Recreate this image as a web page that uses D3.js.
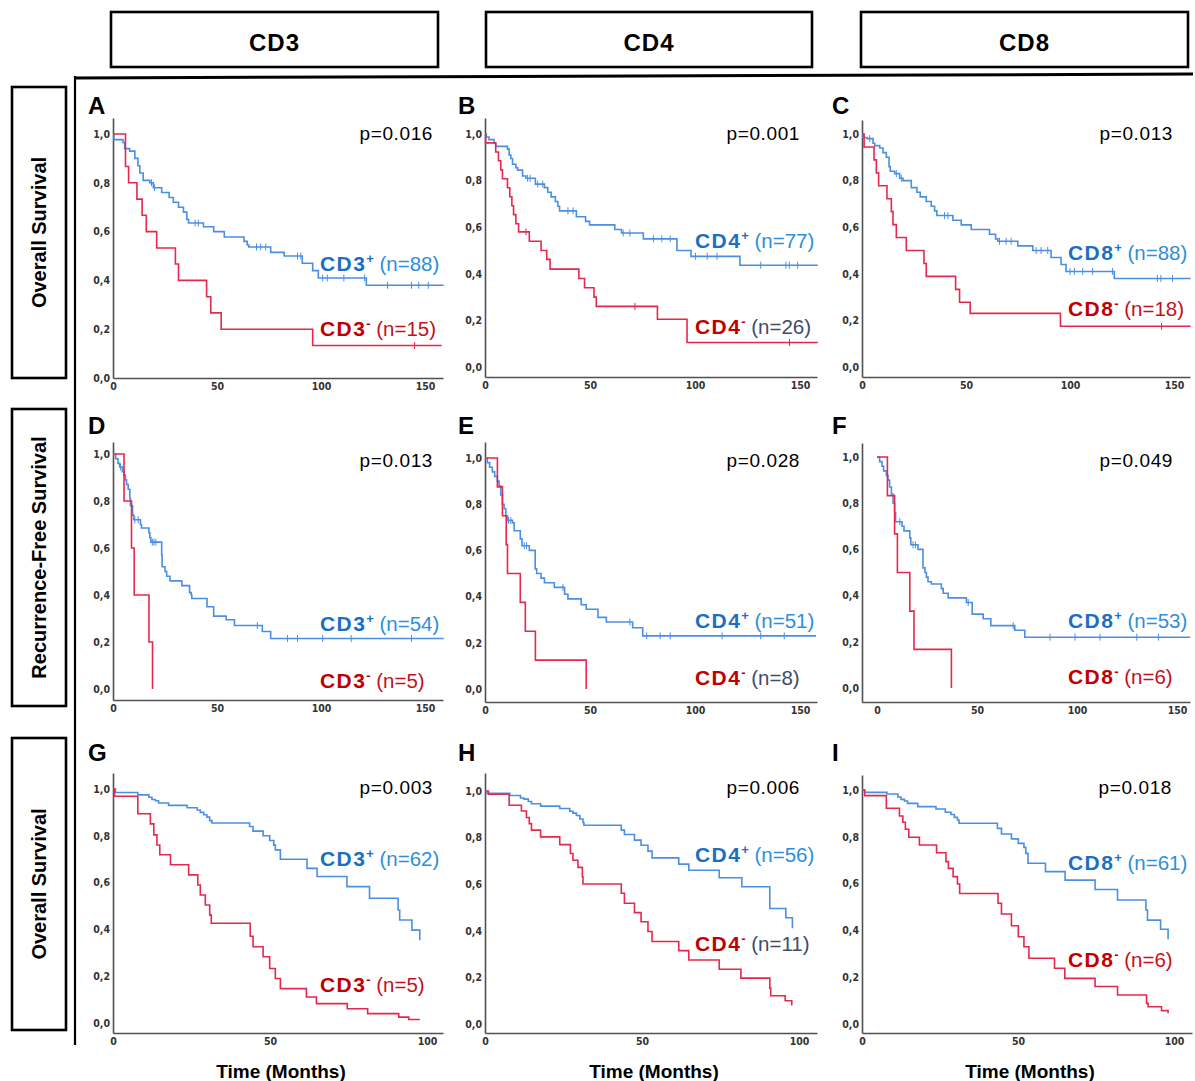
<!DOCTYPE html>
<html><head><meta charset="utf-8">
<script src="https://cdn.jsdelivr.net/npm/d3@7"></script>
<style>
body{margin:0;background:#fff}
text{font-family:"Liberation Sans",Arial,sans-serif}
.tick text{font-family:"Liberation Sans Narrow","DejaVu Sans Condensed","Liberation Sans",sans-serif;font-weight:bold;font-size:10.5px;fill:#333}
</style>
</head><body>
<svg id="c" width="1195" height="1081"></svg>
<script>
// ---------------- DATA ----------------
const columnHeaders = ["CD3", "CD4", "CD8"];
const rowTitles = ["Overall Survival", "Recurrence-Free Survival", "Overall Survival"];
const panelLetters = ["A","B","C","D","E","F","G","H","I"];
const pValues = ["p=0.016","p=0.001","p=0.013","p=0.013","p=0.028","p=0.049","p=0.003","p=0.006","p=0.018"];
const nPos = [88, 77, 88, 54, 51, 53, 62, 56, 61];
const nNeg = [15, 26, 18, 5, 8, 6, 5, 11, 6];
const xTicksLong = [0, 50, 100, 150];
const xTicksShort = [0, 50, 100];
const yTicks = [0, 0.2, 0.4, 0.6, 0.8, 1.0];
const xTitle = "Time (Months)";

// Kaplan-Meier step points [months, survival]
const A_pos = [[0,1],[0.5,0.977],[4.8,0.965],[5.6,0.94],[8,0.93],[10.5,0.9],[12,0.87],[12.9,0.84],[14.5,0.81],[17.7,0.8],[19.4,0.78],[23.4,0.76],[27,0.74],[29,0.72],[31.5,0.7],[33.9,0.68],[35.5,0.65],[36.3,0.635],[43.5,0.62],[48.4,0.6],[53.5,0.578],[63,0.56],[64.5,0.545],[65.3,0.537],[75.8,0.515],[82.3,0.5],[91,0.47],[96,0.44],[98.7,0.41],[121.8,0.38],[159,0.38]];
const A_posCens = [18.5,20,39.5,41,69,71,73.4,88.7,90.3,100.8,103,111,121,132,143.5,147,151.6];
const A_neg = [[0,1],[6,0.867],[7.5,0.8],[11.5,0.733],[14,0.667],[16,0.6],[21,0.533],[30,0.467],[31.5,0.4],[45,0.333],[47,0.267],[52,0.2],[96,0.133],[158,0.133]];
const A_negCens = [145];

const B_pos = [[0,1],[0.6,0.987],[1.9,0.976],[4.3,0.96],[5.1,0.947],[10.7,0.935],[11.5,0.91],[12.3,0.895],[13.1,0.87],[14.7,0.855],[15.5,0.845],[17.9,0.82],[19.5,0.81],[24,0.785],[28.3,0.77],[29.9,0.75],[31.5,0.73],[33.5,0.71],[34.7,0.69],[35.5,0.67],[43.5,0.645],[47.9,0.625],[49.8,0.61],[61.8,0.59],[65,0.575],[75.4,0.55],[91.4,0.5],[98.1,0.475],[121.4,0.437],[158.5,0.437]];
const B_posCens = [20.3,21.5,25.1,27.5,39.5,41.9,65.8,69,80.2,84.2,88.2,100.2,105.8,110.5,131.3,143.3,144.9,148.9];
const B_neg = [[0,1],[0.3,0.962],[5.1,0.923],[6.4,0.885],[7.5,0.846],[8.3,0.808],[10.7,0.769],[11.8,0.731],[12.8,0.692],[13.6,0.654],[14.7,0.615],[16,0.58],[21.1,0.54],[26.7,0.5],[29.4,0.462],[31,0.42],[44.7,0.38],[47.4,0.34],[51.9,0.3],[53,0.26],[82.1,0.205],[96.2,0.105],[158.5,0.105]];
const B_negCens = [19.5,71.4,145];

const C_pos = [[0,1],[0.5,0.985],[2.4,0.98],[5.3,0.96],[6.1,0.95],[8.5,0.94],[10.1,0.92],[11.7,0.9],[13,0.86],[13.6,0.84],[15.7,0.83],[18.1,0.81],[19.7,0.8],[23.7,0.77],[26.4,0.75],[28,0.73],[30.9,0.71],[33.3,0.69],[34.9,0.67],[36,0.65],[43.7,0.63],[47.7,0.61],[52.5,0.59],[61.3,0.57],[64.2,0.55],[65.3,0.54],[74.9,0.52],[82.1,0.5],[90.9,0.47],[95.7,0.44],[98.1,0.41],[121.3,0.38],[158,0.38]];
const C_posCens = [3.7,16.5,18.9,39.7,41.3,66.1,69.3,71.7,83.7,86.1,89.3,100,102.1,106.1,110.9,120.5,142,143.7,149.3];
const C_neg = [[0,1],[1,0.944],[5.8,0.889],[6.9,0.833],[8,0.778],[12,0.722],[14.1,0.667],[14.9,0.611],[16.5,0.556],[21.3,0.5],[29.8,0.444],[30.9,0.389],[45,0.333],[46.9,0.278],[52,0.23],[95.4,0.175],[158,0.175]];
const C_negCens = [144];

const D_pos = [[0,1],[1.3,0.98],[2.4,0.96],[3.2,0.945],[4.5,0.925],[5.2,0.91],[6,0.89],[6.5,0.87],[7.3,0.85],[8.1,0.81],[8.4,0.78],[9.4,0.74],[10,0.72],[13.2,0.7],[13.7,0.685],[17.3,0.665],[17.7,0.645],[18.2,0.625],[23.4,0.57],[23.6,0.52],[25,0.5],[25.8,0.48],[27.4,0.46],[33.1,0.44],[36.8,0.41],[37.6,0.4],[37.9,0.385],[45.2,0.35],[48.4,0.31],[54.4,0.295],[58.4,0.27],[71.8,0.245],[75.8,0.215],[159,0.215]];
const D_posCens = [3.6,10.5,12.1,18.9,19.7,20.6,69.4,83.9,88.7,100.8,114.5,143.5];
const D_neg = [[0,1],[5.3,0.8],[8.9,0.6],[10.2,0.4],[17.3,0.2],[19,0]];
const D_negCens = [];

const E_pos = [[0,1],[1.1,0.98],[2.2,0.96],[3.5,0.94],[4.6,0.92],[5.9,0.9],[6.7,0.88],[7.5,0.84],[8.3,0.8],[9.1,0.78],[9.9,0.75],[10.7,0.73],[13.1,0.72],[13.9,0.685],[16.8,0.65],[17.6,0.62],[21.1,0.6],[23.9,0.52],[24.6,0.5],[26.7,0.48],[28.3,0.46],[33,0.44],[37.9,0.41],[39.5,0.39],[45.8,0.365],[48.2,0.345],[53.8,0.31],[57.8,0.29],[70.3,0.265],[75.1,0.23],[157.6,0.23]];
const E_posCens = [11.2,12.3,18.7,19.8,37.1,69,77,83.4,88.2,112.9,131.3,142.5];
const E_neg = [[0,1],[5.9,0.875],[8.3,0.75],[10.1,0.625],[10.7,0.5],[16.8,0.375],[19.2,0.25],[24,0.125],[48.2,0]];
const E_negCens = [];

const F_pos = [[0,1],[1.3,0.98],[2.5,0.96],[3.3,0.94],[4.7,0.92],[5.5,0.9],[6.3,0.87],[7.2,0.84],[8,0.8],[8.8,0.76],[9.3,0.72],[12.5,0.7],[13.5,0.68],[16.4,0.65],[16.9,0.62],[20.5,0.6],[23,0.52],[24,0.5],[24.7,0.48],[25.5,0.46],[27.2,0.45],[32.2,0.43],[33.1,0.41],[35.6,0.39],[44.7,0.37],[47.6,0.32],[53.1,0.3],[56.9,0.27],[68.9,0.25],[73.9,0.22],[156.6,0.22]];
const F_posCens = [11.4,18,19.2,45.6,68.1,86.5,99,111.5,129.9,140.7];
const F_neg = [[0,1],[5.2,0.833],[8.8,0.667],[10.2,0.5],[16.4,0.333],[18.5,0.167],[37.2,0]];
const F_negCens = [];

const G_pos = [[0,1],[0.8,0.985],[7.9,0.975],[11.4,0.965],[12.4,0.955],[13.5,0.95],[14.5,0.94],[17.7,0.93],[23.6,0.92],[26.8,0.91],[27.8,0.9],[28.9,0.89],[29.9,0.88],[30.8,0.865],[31.5,0.855],[43.5,0.84],[44.6,0.82],[47.8,0.8],[49.9,0.78],[51.2,0.76],[51.7,0.74],[53.3,0.7],[61.8,0.661],[65,0.626],[74.5,0.583],[81.7,0.533],[90.8,0.483],[91.3,0.44],[95.2,0.397],[97.7,0.354]];
const G_neg = [[0,1],[0.5,0.969],[7.9,0.894],[11.9,0.851],[13,0.804],[14,0.761],[14.9,0.719],[18.3,0.676],[24.1,0.633],[27,0.59],[27.8,0.547],[29.4,0.504],[30.8,0.461],[31.3,0.426],[43.7,0.371],[44.6,0.326],[47.8,0.283],[49.9,0.233],[51.7,0.19],[53.3,0.147],[61.6,0.111],[64.8,0.083],[74.6,0.061],[81.1,0.04],[91,0.025],[94.2,0.015],[97.7,0.015]];

const H_pos = [[0,1],[0.5,0.99],[7.9,0.981],[11.3,0.97],[12.4,0.965],[13.8,0.955],[14.8,0.945],[17.7,0.935],[23.8,0.925],[27,0.913],[28,0.905],[29.1,0.895],[30.2,0.88],[31.2,0.865],[31.5,0.853],[43.4,0.832],[44.4,0.813],[47.6,0.789],[49.7,0.767],[51.9,0.742],[53.2,0.713],[61.7,0.686],[64.9,0.66],[74.6,0.628],[81.8,0.589],[90.7,0.496],[95.8,0.456],[97.9,0.411]];
const H_neg = [[0,1],[1.1,0.986],[7.7,0.939],[11.6,0.914],[13.2,0.886],[14.1,0.86],[14.8,0.832],[17.7,0.803],[23.8,0.77],[27.2,0.732],[28,0.703],[29.6,0.672],[31,0.632],[31.2,0.601],[43.4,0.561],[44.4,0.518],[47.6,0.478],[49.7,0.439],[51.9,0.397],[53.2,0.354],[61.7,0.315],[64.9,0.275],[74.6,0.235],[81.5,0.197],[90.7,0.154],[91,0.121],[95.6,0.1],[97.7,0.083],[97.9,0.083]];

const I_pos = [[0,1],[0.85,0.99],[8,0.983],[11.5,0.97],[12.5,0.96],[13.6,0.953],[14.6,0.943],[17.9,0.929],[23.7,0.919],[26.7,0.905],[28.5,0.895],[29.6,0.883],[30.6,0.872],[31.1,0.858],[43.4,0.836],[44.7,0.812],[47.9,0.791],[50.1,0.772],[51.9,0.755],[52.5,0.729],[53.2,0.687],[58.8,0.651],[65.1,0.615],[74.7,0.575],[81.9,0.53],[91,0.487],[91.5,0.444],[95.7,0.405],[98.1,0.362]];
const I_neg = [[0,1],[0.85,0.976],[7.8,0.922],[12,0.889],[13.1,0.862],[13.9,0.832],[15,0.798],[18.4,0.765],[23.9,0.732],[26.9,0.694],[27.7,0.665],[29.2,0.63],[30.6,0.598],[31.3,0.558],[43.6,0.516],[44.7,0.47],[47.9,0.42],[50.1,0.373],[51.9,0.33],[53.5,0.281],[61.7,0.238],[65,0.195],[74.7,0.16],[81.9,0.124],[91.2,0.088],[91.7,0.074],[96,0.057],[98.1,0.046]];

const posCurves = [A_pos,B_pos,C_pos,D_pos,E_pos,F_pos,G_pos,H_pos,I_pos];
const negCurves = [A_neg,B_neg,C_neg,D_neg,E_neg,F_neg,G_neg,H_neg,I_neg];
const posCens = [A_posCens,B_posCens,C_posCens,D_posCens,E_posCens,F_posCens,[],[],[]];
const negCens = [A_negCens,B_negCens,C_negCens,D_negCens,E_negCens,F_negCens,[],[],[]];

// ---------------- LAYOUT ----------------
const layout = [
  {left:113,right:443,top:118,bottom:378,x0:113,x50:217,y1:134,y0:378},
  {left:485,right:817,top:118,bottom:377,x0:485,x50:590,y1:134,y0:367},
  {left:862,right:1190,top:120,bottom:377,x0:862,x50:966,y1:134,y0:367},
  {left:113,right:443,top:442,bottom:700,x0:113,x50:217,y1:454,y0:689},
  {left:485,right:817,top:442,bottom:702,x0:485,x50:590,y1:458,y0:689},
  {left:862,right:1190,top:443,bottom:702,x0:877,x50:977,y1:457,y0:688},
  {left:113,right:443,top:773,bottom:1033,x0:113,x50:270,y1:789,y0:1023},
  {left:485,right:817,top:773,bottom:1033,x0:485,x50:642,y1:791,y0:1024},
  {left:862,right:1192,top:775,bottom:1033,x0:862,x50:1018,y1:790,y0:1024}
];
const headerBoxes = [[111,438],[486,812],[861,1188]];
const rowBoxes = [[87,378],[409,706],[738,1030]];
const legendX = [320, 695, 1068];
const legendPosY = [264,241,253,624,621,621,859,855,863];
const legendNegY = [329,327,309,681,678,677,985,944,960];
const pRight = [433,800,1173,433,800,1173,433,800,1172];
const pY = [133,133,133,460,460,460,787,787,787];
const letterX = [88,458,832];
const letterY = [105,105,105,425,425,425,752,752,752];

const BLUE_LINE = "#4a8fe3", RED_LINE = "#e5284d";
const BLUE_BOLD = "#1b6fc3", BLUE_REG = "#2d8fdb";
const RED_BOLD = "#c00000", RED_REG = "#c4111c", GREY_REG = "#3f4d68";

const svg = d3.select("#c");

// header boxes
columnHeaders.forEach((h, i) => {
  const [x1, x2] = headerBoxes[i];
  svg.append("rect").attr("x", x1).attr("y", 12).attr("width", x2 - x1).attr("height", 55)
    .attr("fill", "none").attr("stroke", "#000").attr("stroke-width", 2.6);
  svg.append("text").attr("x", (x1 + x2) / 2).attr("y", 51).attr("text-anchor", "middle")
    .attr("font-weight", "bold").attr("font-size", 24).style("letter-spacing", "1px").text(h);
});

// row boxes
rowTitles.forEach((t, i) => {
  const [y1, y2] = rowBoxes[i];
  svg.append("rect").attr("x", 12).attr("y", y1).attr("width", 54).attr("height", y2 - y1)
    .attr("fill", "none").attr("stroke", "#000").attr("stroke-width", 2.6);
  svg.append("text").attr("transform", `translate(46,${(y1 + y2) / 2}) rotate(-90)`)
    .attr("text-anchor", "middle").attr("font-weight", "bold").attr("font-size", 20).text(t);
});

// frame lines
svg.append("line").attr("x1", 74).attr("y1", 78).attr("x2", 1193).attr("y2", 74)
  .attr("stroke", "#000").attr("stroke-width", 3);
svg.append("line").attr("x1", 75).attr("y1", 76).attr("x2", 75).attr("y2", 1045)
  .attr("stroke", "#000").attr("stroke-width", 2.2);

function survAt(curve, t) {
  let s = curve[0][1];
  for (const p of curve) { if (p[0] <= t) s = p[1]; else break; }
  return s;
}

panelLetters.forEach((letter, i) => {
  const col = i % 3, row = Math.floor(i / 3);
  const L = layout[i];
  const g = svg.append("g");
  const x = d3.scaleLinear().domain([0, 50]).range([L.x0, L.x50]);
  const y = d3.scaleLinear().domain([0, 1]).range([L.y0, L.y1]);
  const xa = d3.scaleLinear().domain([x.invert(L.left), x.invert(L.right)]).range([L.left, L.right]);
  const ya = d3.scaleLinear().domain([y.invert(L.bottom), y.invert(L.top)]).range([L.bottom, L.top]);

  const gx = g.append("g").attr("transform", `translate(0,${L.bottom})`)
    .call(d3.axisBottom(xa).tickValues(row < 2 ? xTicksLong : xTicksShort)
      .tickSize(0).tickPadding(5).tickFormat(d3.format("d")));
  const gy = g.append("g").attr("transform", `translate(${L.left},0)`)
    .call(d3.axisLeft(ya).tickValues(yTicks).tickSize(0).tickPadding(3)
      .tickFormat(d => d3.format(".1f")(d).replace(".", ",")));
  [gx, gy].forEach(a => a.select(".domain").attr("stroke", "#505050").attr("stroke-width", 1.6));

  const line = d3.line().x(d => x(d[0])).y(d => y(d[1])).curve(d3.curveStepAfter);
  const drawCurve = (data, cens, color) => {
    g.append("path").datum(data).attr("d", line).attr("fill", "none")
      .attr("stroke", color).attr("stroke-width", 1.6);
    g.selectAll(null).data(cens).enter().append("line")
      .attr("x1", d => x(d)).attr("x2", d => x(d))
      .attr("y1", d => y(survAt(data, d)) - 3.5).attr("y2", d => y(survAt(data, d)) + 3.5)
      .attr("stroke", color).attr("stroke-width", 1);
  };
  drawCurve(posCurves[i], posCens[i], BLUE_LINE);
  drawCurve(negCurves[i], negCens[i], RED_LINE);

  // panel letter
  g.append("text").attr("x", letterX[col]).attr("y", letterY[i] + 9)
    .attr("font-weight", "bold").attr("font-size", 24).text(letter);
  // p value
  g.append("text").attr("x", pRight[i]).attr("y", pY[i] + 7).attr("text-anchor", "end")
    .attr("font-size", 19).style("letter-spacing", "0.6px").text(pValues[i]);

  // legend labels
  const marker = columnHeaders[col];
  const addLabel = (yy, sign, n, cBold, cReg) => {
    const t = g.append("text").attr("x", legendX[col]).attr("y", yy + 7).attr("font-size", 21);
    t.append("tspan").attr("font-weight", "bold").attr("fill", cBold)
      .style("letter-spacing", "1.4px").text(marker);
    t.append("tspan").attr("font-weight", "bold").attr("fill", cBold).attr("font-size", 13)
      .attr("dy", -8).text(sign);
    t.append("tspan").attr("fill", cReg).attr("dy", 8).attr("font-size", 20.5)
      .text("\u00A0(n=" + n + ")");
  };
  addLabel(legendPosY[i], "+", nPos[i], BLUE_BOLD, BLUE_REG);
  addLabel(legendNegY[i], "-", nNeg[i], RED_BOLD, col === 1 ? GREY_REG : RED_REG);

  if (row === 2) {
    g.append("text").attr("x", (L.left + L.right) / 2 + 3).attr("y", 1078)
      .attr("text-anchor", "middle").attr("font-weight", "bold").attr("font-size", 19).text(xTitle);
  }
});
</script>
</body></html>
